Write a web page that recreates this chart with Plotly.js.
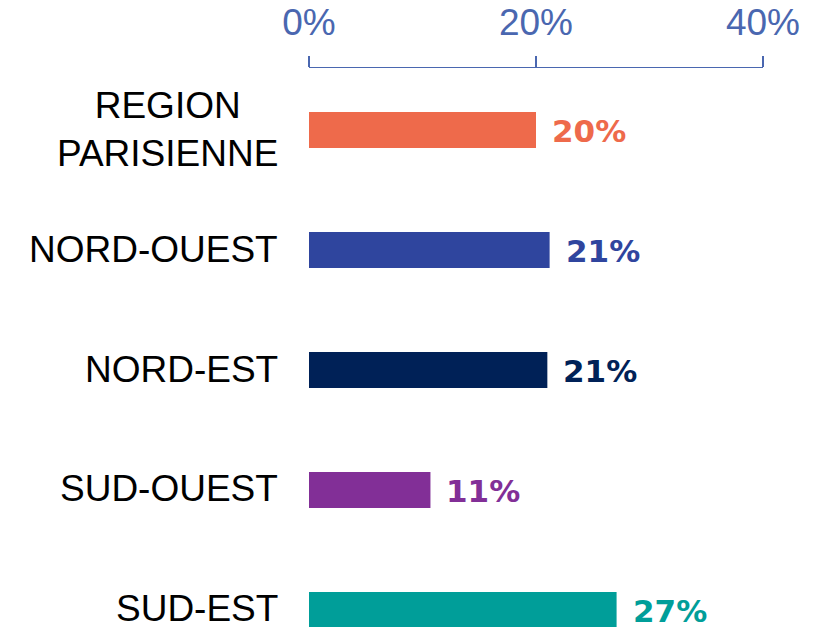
<!DOCTYPE html>
<html>
<head>
<meta charset="utf-8">
<script src="https://cdn.plot.ly/plotly-3.0.1.min.js"></script>
<style>html,body{margin:0;padding:0;background:#fff;}#chart{width:828px;height:627px;}</style>
</head>
<body>
<div id="chart"></div>
<script>
var categories = ["REGION<br>PARISIENNE", "NORD-OUEST", "NORD-EST", "SUD-OUEST", "SUD-EST"];
var values = [0.20, 0.212, 0.21, 0.107, 0.271];
var colors = ["#EE6A4B", "#2F459E", "#002157", "#822F97", "#009E99"];
var xTickVals = [0, 0.2, 0.4];
var xTickText = ["0%", "20%", "40%"];

var idx = categories.map(function(_, i){ return i; });

var trace = {
  type: "bar",
  orientation: "h",
  y: idx,
  x: values,
  marker: {color: colors},
  hoverinfo: "none",
  showlegend: false
};

var annotations = [];
categories.forEach(function(c, i){
  annotations.push({
    x: 0, xref: "paper", y: i, yref: "y",
    xanchor: "right", yanchor: "middle", align: "center",
    xshift: -29, yshift: 1,
    text: c, showarrow: false,
    font: {family: "Liberation Sans, Arial, sans-serif", size: 37, color: "#000000"}
  });
  annotations.push({
    x: values[i], xref: "x", y: i, yref: "y",
    xanchor: "left", yanchor: "middle",
    xshift: 14, yshift: -1,
    text: Math.round(values[i] * 100) + "%", showarrow: false,
    font: {family: "DejaVu Sans, sans-serif", size: 31, color: colors[i], weight: "bold"}
  });
});

var layout = {
  width: 828, height: 627,
  margin: {l: 309, r: 65, t: 68, b: 0, pad: 0},
  paper_bgcolor: "#ffffff", plot_bgcolor: "#ffffff",
  bargap: 0.7,
  xaxis: {
    side: "top", range: [0, 0.4],
    tickvals: xTickVals, ticktext: xTickText,
    showgrid: false, zeroline: false,
    showline: true, linecolor: "#4A67B0", linewidth: 1.5,
    ticks: "outside", ticklen: 11, tickcolor: "#4A67B0", tickwidth: 1.5,
    ticklabelstandoff: 6,
    tickfont: {family: "Liberation Sans, Arial, sans-serif", size: 37, color: "#4A67B0"},
    fixedrange: true
  },
  yaxis: {
    range: [4.142, -0.517],
    showticklabels: false, showgrid: false, zeroline: false, showline: false, ticks: "",
    fixedrange: true
  },
  annotations: annotations
};

Plotly.newPlot("chart", [trace], layout, {staticPlot: true, displayModeBar: false});
</script>
</body>
</html>
